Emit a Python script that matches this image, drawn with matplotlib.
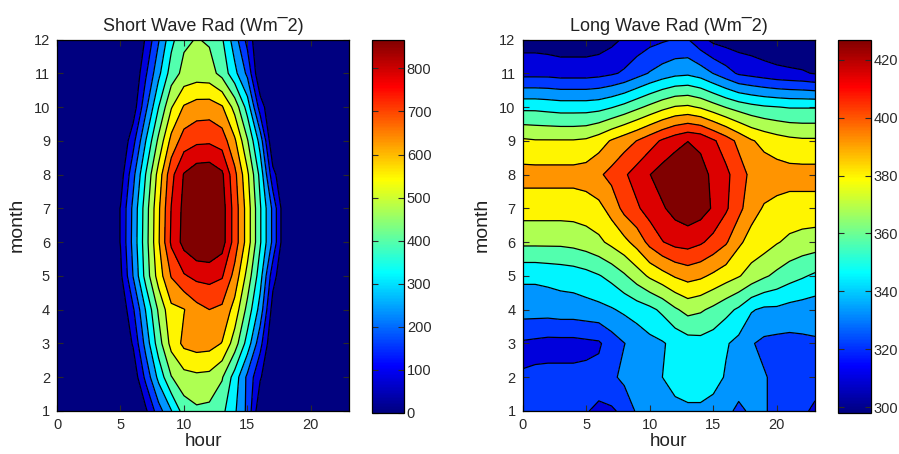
import numpy as np
import matplotlib
matplotlib.use("Agg")
import matplotlib.pyplot as plt
from matplotlib.colors import LinearSegmentedColormap, Normalize
from matplotlib.cm import ScalarMappable

plt.rcParams['font.family'] = ['Liberation Sans', 'DejaVu Sans']

hours = list(range(24))
months = list(range(1, 13))

# Short wave radiation (W m-2), one list per month, hours 0..23
sw_m01 = [0,0,0,0,0,0,0,60,185,285,395,421,415,380,300,200,10,0,0,0,0,0,0,0]
sw_m02 = [0,0,0,0,0,0,20,165,310,430,480,490,485,440,330,200,80,0,0,0,0,0,0,0]
sw_m03 = [0,0,0,0,0,0,80,245,400,530,595,610,605,575,470,330,170,0,0,0,0,0,0,0]
sw_m04 = [0,0,0,0,0,10,135,295,445,560,575,625,650,635,550,410,260,40,0,0,0,0,0,0]
sw_m05 = [0,0,0,0,0,55,220,390,540,655,715,742,747,730,625,480,320,100,0,0,0,0,0,0]
sw_m06 = [0,0,0,0,0,75,240,405,570,735,820,860,867,828,690,545,370,200,0,0,0,0,0,0]
sw_m07 = [0,0,0,0,0,75,235,400,565,725,815,855,862,830,690,545,370,200,0,0,0,0,0,0]
sw_m08 = [0,0,0,0,0,35,195,365,535,700,800,838,843,808,670,520,340,95,0,0,0,0,0,0]
sw_m09 = [0,0,0,0,0,0,120,290,450,600,685,708,711,690,590,440,260,0,0,0,0,0,0,0]
sw_m10 = [0,0,0,0,0,0,30,200,360,500,585,610,613,585,480,330,110,0,0,0,0,0,0,0]
sw_m11 = [0,0,0,0,0,0,0,135,270,395,455,468,462,410,310,200,0,0,0,0,0,0,0,0]
sw_m12 = [0,0,0,0,0,0,0,80,210,340,420,437,425,370,250,120,0,0,0,0,0,0,0,0]

# Long wave radiation (W m-2), one list per month, hours 0..23
lw_m01 = [322,322,322,322,321,320,318,318,322,332,334,336,338,339,339,337,333,328,332,331,328,324,321,318]
lw_m02 = [320,321,322,322,322,322,323,328,333,334,337,341,345,347,347,345,340,336,332,331,328,325,324,323]
lw_m03 = [318,317,316,316,316,317,318,325,330,334,338,340,344,347,348,346,342,338,331,328,327,327,328,329]
lw_m04 = [335,335,335,336,336,337,338,340,343,346,349,354,361,366,364,360,355,350,342,339,339,337,336,335]
lw_m05 = [343,343,344,345,346,348,351,355,361,368,375,380,385,388,386,382,378,374,369,364,360,356,353,350]
lw_m06 = [365,365,365,365,366,368,371,376,381,388,398,405,409,410,407,402,396,386,380,378,374,371,369,368]
lw_m07 = [378,378,378,378,378,379,381,388,398,404,410,415,420,423,421,415,407,398,388,383,381,380,380,380]
lw_m08 = [388,388,388,388,388,389,393,398,404,410,416,421,425,427,420,414,408,400,392,390,389,388,388,388]
lw_m09 = [375,374,374,374,374,375,379,385,390,395,401,407,412,416,414,407,400,392,385,381,378,376,375,375]
lw_m10 = [349,349,348,347,347,347,348,351,355,360,365,370,374,375,372,367,362,358,355,353,352,351,351,351]
lw_m11 = [316,316,316,315,315,315,316,318,321,326,331,335,338,339,336,330,324,318,316,314,312,311,310,308]
lw_m12 = [304,304,303,302,302,302,303,306,310,313,316,318,320,320,312,306,304,303,302,300,299,298,298,299]

sw_ticks = [0, 100, 200, 300, 400, 500, 600, 700, 800]
lw_ticks = [300, 320, 340, 360, 380, 400, 420]
x_ticks = [0, 5, 10, 15, 20]

SW = np.array([sw_m01, sw_m02, sw_m03, sw_m04, sw_m05, sw_m06,
               sw_m07, sw_m08, sw_m09, sw_m10, sw_m11, sw_m12], dtype=float)
LW = np.array([lw_m01, lw_m02, lw_m03, lw_m04, lw_m05, lw_m06,
               lw_m07, lw_m08, lw_m09, lw_m10, lw_m11, lw_m12], dtype=float)

# MATLAB-style jet colormap
mjet = LinearSegmentedColormap('mjet', {
    'red':   [(0, 0, 0), (0.375, 0, 0), (0.625, 1, 1), (0.875, 1, 1), (1, 0.5, 0.5)],
    'green': [(0, 0, 0), (0.125, 0, 0), (0.375, 1, 1), (0.625, 1, 1), (0.875, 0, 0), (1, 0, 0)],
    'blue':  [(0, 0.5, 0.5), (0.125, 1, 1), (0.375, 1, 1), (0.625, 0, 0), (1, 0, 0)],
}, N=256)

NB = 12
band_colors = [mjet(k / (NB - 1)) for k in range(NB)]

W, Hpx = 899, 454
fig = plt.figure(figsize=(W / 100, Hpx / 100), dpi=100)

def rect(x0, y0, x1, y1):
    return [x0 / W, 1 - y1 / Hpx, (x1 - x0) / W, (y1 - y0) / Hpx]

H, M = np.meshgrid(hours, months)
tick_col = '#2a2a2a'

def panel(ax_rect, cb_rect, Z, title, cticks):
    ax = fig.add_axes(rect(*ax_rect))
    zmin, zmax = Z.min(), Z.max()
    levels = np.linspace(zmin, zmax, NB + 1)
    ax.contourf(H, M, Z, levels=levels, colors=band_colors)
    ax.contour(H, M, Z, levels=levels[1:-1], colors='k', linewidths=0.9)
    ax.set_xlim(0, 23)
    ax.set_ylim(1, 12)
    ax.set_xticks(x_ticks)
    ax.set_yticks(months)
    ax.tick_params(direction='in', top=True, right=True, length=4, width=0.8,
                   labelsize=10.5, pad=5, colors=tick_col)
    for s in ax.spines.values():
        s.set_linewidth(0.9)
    ax.set_title(title, fontsize=13, pad=6, color='#222222')
    ax.set_xlabel('hour', fontsize=13.5, labelpad=1, color='#222222')
    ax.set_ylabel('month', fontsize=14, labelpad=6, color='#222222')
    cax = fig.add_axes(rect(*cb_rect))
    sm = ScalarMappable(norm=Normalize(zmin, zmax), cmap=mjet)
    cb = fig.colorbar(sm, cax=cax)
    cb.set_ticks(cticks)
    cb.outline.set_linewidth(0.9)
    cax.tick_params(direction='in', left=True, right=True, length=4, width=0.8,
                    labelsize=10.5, pad=2, colors=tick_col)
    return ax

panel((57, 39.5, 349, 411), (372, 39.5, 404, 413), SW,
      'Short Wave Rad (Wm\u00af2)', sw_ticks)
panel((522.5, 39.5, 815, 411), (838, 39.5, 870.5, 413), LW,
      'Long Wave Rad (Wm\u00af2)', lw_ticks)

fig.savefig('out.png', dpi=100)
